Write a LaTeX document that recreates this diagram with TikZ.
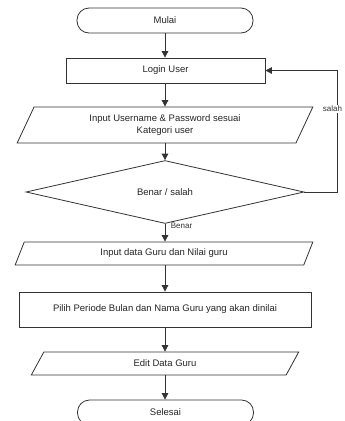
\documentclass[tikz,border=0pt]{standalone}
\usepackage{fontspec}
\setmainfont{Liberation Sans}
\usetikzlibrary{shapes.geometric,arrows.meta}
\begin{document}
\begin{tikzpicture}[x=1pt,y=-1pt,
  every node/.style={font=\fontsize{9.5}{12}\selectfont, text=black!85},
  line/.style={draw=black!80, line width=0.8pt},
  term/.style={line, rectangle, rounded corners=12pt, minimum width=176pt, minimum height=25pt, inner sep=0pt},
  proc/.style={line, rectangle, minimum height=25pt, inner sep=0pt},
  io/.style={line, trapezium, trapezium left angle=65, trapezium right angle=115, trapezium stretches=true, inner sep=0pt, align=center},
  dec/.style={line, diamond, minimum width=278pt, minimum height=48pt, inner sep=0pt},
  arr/.style={line, -{Triangle[length=6.5pt,width=6.5pt]}},
  lbl/.style={font=\fontsize{8}{9}\selectfont, text=black!80, inner sep=1pt}
]
\fill[white] (0,0) rectangle (345,421);
\useasboundingbox (0,0) rectangle (345,421);
\clip (0,0) rectangle (345,421);

\node[term] (mulai) at (165,20.5) {Mulai};
\node[proc, minimum width=199pt] (login) at (165.5,70.5) {Login User};
\node[io, minimum width=296pt, minimum height=36pt] (in1) at (165,125) {Input Username \& Password sesuai\\Kategori user};
\node[dec] (dec) at (165,192) {Benar / salah};
\node[io, minimum width=298pt, minimum height=23pt] (in2) at (164,253.5) {Input data Guru dan Nilai guru};
\node[proc, minimum width=292pt, minimum height=35pt] (pilih) at (165,309.5) {Pilih Periode Bulan dan Nama Guru yang akan dinilai};
\node[io, minimum width=268pt, minimum height=23pt] (edit) at (165,363.5) {Edit Data Guru};
\node[term] (selesai) at (165.5,412.5) {Selesai};

\coordinate (loopx) at (337,0);

\draw[arr] (mulai.south) -- (mulai.south |- login.north);
\draw[arr] (login.south -| mulai.south) -- (mulai.south |- in1.north);
\draw[arr] (mulai.south |- in1.south) -- (dec.north);
\draw[arr] (dec.south) -- (dec.south |- in2.north);
\draw[arr] (dec.south |- in2.south) -- (dec.south |- pilih.north);
\draw[arr] (pilih.south) -- (pilih.south |- edit.north);
\draw[arr] (edit.south) -- (edit.south |- selesai.north);
\draw[arr] (dec.east) -- (dec.east -| loopx) |- (login.east);

\node[lbl] (benar) at (181.5,226) {Benar};
\node[lbl, fill=white] (salah) at (332.5,109) {salah};
\end{tikzpicture}
\end{document}
